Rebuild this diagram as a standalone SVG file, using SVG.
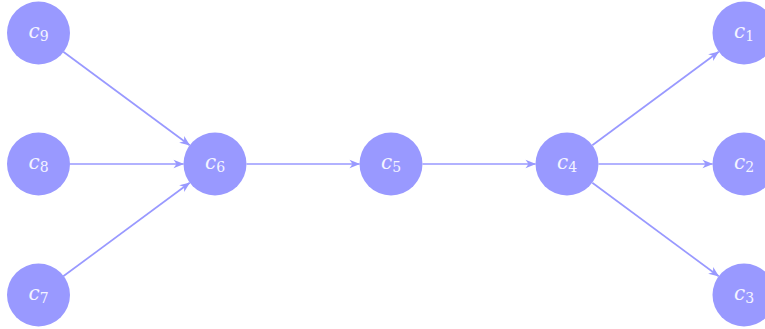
<svg xmlns="http://www.w3.org/2000/svg" width="765" height="329" viewBox="0 0 765 329">
<style>
.n circle{fill:#9999ff}
.n text{fill:#f4f4ff;font-family:"DejaVu Serif","Liberation Serif",serif;font-style:italic;font-size:20px;text-anchor:middle}
.n tspan.s{font-style:normal;font-size:14px}
#edges line{stroke:#9999ff;stroke-width:1.7;fill:none;marker-end:url(#ah)}
</style>
<defs>
<marker id="ah" markerUnits="userSpaceOnUse" viewBox="-11 -5 12 10" refX="0" refY="0" markerWidth="12" markerHeight="10" orient="auto">
<path d="M0.5,0 L-10,-4.2 L-7,0 L-10,4.2 Z" fill="#9999ff"/>
</marker>
</defs>
<rect width="765" height="329" fill="#ffffff"/>
<g id="edges">
<line x1="63.3" y1="51.7" x2="189.7" y2="145.3"/>
<line x1="69.5" y1="164" x2="183.5" y2="164"/>
<line x1="63.3" y1="276.3" x2="189.7" y2="182.7"/>
<line x1="246.5" y1="164" x2="359.5" y2="164"/>
<line x1="422.5" y1="164" x2="535.5" y2="164"/>
<line x1="592.3" y1="145.3" x2="718.7" y2="51.7"/>
<line x1="598.5" y1="164" x2="712.5" y2="164"/>
<line x1="592.3" y1="182.7" x2="718.7" y2="276.3"/>
</g>
<g id="c9" class="n"><circle cx="38.5" cy="33" r="31.5"/><text x="38.5" y="38">c<tspan class="s" dy="3">9</tspan></text></g>
<g id="c8" class="n"><circle cx="38.5" cy="164" r="31.5"/><text x="38.5" y="169">c<tspan class="s" dy="3">8</tspan></text></g>
<g id="c7" class="n"><circle cx="38.5" cy="295" r="31.5"/><text x="38.5" y="300">c<tspan class="s" dy="3">7</tspan></text></g>
<g id="c6" class="n"><circle cx="215" cy="164" r="31.5"/><text x="215" y="169">c<tspan class="s" dy="3">6</tspan></text></g>
<g id="c5" class="n"><circle cx="391" cy="164" r="31.5"/><text x="391" y="169">c<tspan class="s" dy="3">5</tspan></text></g>
<g id="c4" class="n"><circle cx="567" cy="164" r="31.5"/><text x="567" y="169">c<tspan class="s" dy="3">4</tspan></text></g>
<g id="c1" class="n"><circle cx="744" cy="33" r="31.5"/><text x="744" y="38">c<tspan class="s" dy="3">1</tspan></text></g>
<g id="c2" class="n"><circle cx="744" cy="164" r="31.5"/><text x="744" y="169">c<tspan class="s" dy="3">2</tspan></text></g>
<g id="c3" class="n"><circle cx="744" cy="295" r="31.5"/><text x="744" y="300">c<tspan class="s" dy="3">3</tspan></text></g>
</svg>
